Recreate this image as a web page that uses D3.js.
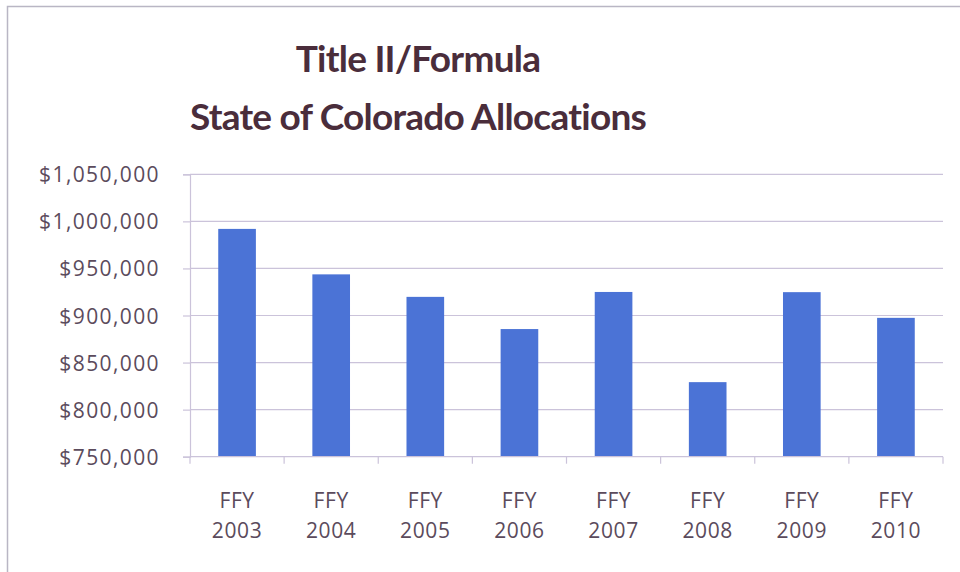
<!DOCTYPE html>
<html>
<head>
<meta charset="utf-8">
<script src="https://cdn.jsdelivr.net/npm/d3@7"></script>
<style>
  body { margin: 0; background: #fff; }
  svg { display: block; }
</style>
</head>
<body>
<svg id="chart" width="960" height="572"></svg>
<script>
// data
const years = ['2003', '2004', '2005', '2006', '2007', '2008', '2009', '2010'];
const allocations = [992000, 943700, 919800, 885600, 925000, 829200, 924800, 897500];
const yTicks = [750000, 800000, 850000, 900000, 950000, 1000000, 1050000];
const titleLines = ['Title II/Formula', 'State of Colorado Allocations'];

const svg = d3.select('#chart');
const margin = { top: 174.3, right: 17, bottom: 115.3, left: 190 };
const width = 960 - margin.left - margin.right;
const height = 572 - margin.top - margin.bottom;

// outer frame (partly cropped in the picture)
svg.append('path')
    .attr('d', 'M7.5,572 V6.5 H960')
    .attr('fill', 'none')
    .attr('stroke', '#b9b6c4')
    .attr('stroke-width', 1.5);

svg.selectAll('.title')
    .data(titleLines)
    .enter().append('text')
    .attr('class', 'title')
    .attr('x', 418)
    .attr('y', (d, i) => 72 + i * 58)
    .attr('text-anchor', 'middle')
    .attr('font-family', 'Lato, "Open Sans", sans-serif')
    .attr('font-weight', 'bold')
    .attr('font-size', 37)
    .attr('letter-spacing', -0.75)
    .attr('fill', '#4a2d3b')
    .text(d => d);

const chart = svg.append('g')
    .attr('transform', `translate(${margin.left},${margin.top})`);

const xScale = d3.scaleBand()
    .domain(years)
    .range([0, width])
    .paddingInner(0.6)
    .paddingOuter(0.3);

const yScale = d3.scaleLinear()
    .domain([750000, 1050000])
    .range([height, 0]);

const gridColour = '#cbc3da';
const labelColour = '#5b4b5c';

// gridlines
chart.selectAll('.grid')
    .data(yTicks.slice(1))
    .enter().append('line')
    .attr('class', 'grid')
    .attr('x1', 0)
    .attr('x2', width)
    .attr('y1', d => yScale(d))
    .attr('y2', d => yScale(d))
    .attr('stroke', gridColour)
    .attr('stroke-width', 1.2);

// bars
chart.selectAll('.bar')
    .data(allocations)
    .enter().append('rect')
    .attr('class', 'bar')
    .attr('x', (d, i) => xScale(years[i]))
    .attr('width', xScale.bandwidth())
    .attr('y', d => yScale(d))
    .attr('height', d => height - yScale(d))
    .attr('fill', '#4b73d6');

// y axis
const yAxis = chart.append('g')
    .call(d3.axisLeft(yScale)
        .tickValues(yTicks)
        .tickSize(7)
        .tickPadding(23)
        .tickFormat(d => '$' + d3.format(',')(d)));
yAxis.select('.domain').attr('stroke', gridColour).attr('stroke-width', 1.2);
yAxis.selectAll('.tick line').attr('stroke', gridColour).attr('stroke-width', 1.2);
yAxis.selectAll('.tick text')
    .attr('fill', labelColour)
    .attr('font-family', '"Open Sans", sans-serif')
    .attr('font-size', 21)
    .attr('letter-spacing', 1.4)
    .attr('dy', '0.36em');

// x axis: ticks sit between categories
const step = xScale.step();
const xAxis = chart.append('g')
    .attr('transform', `translate(0,${height})`);
xAxis.append('line')
    .attr('x1', 0).attr('x2', width)
    .attr('stroke', gridColour).attr('stroke-width', 1.2);
xAxis.selectAll('.xtick')
    .data(d3.range(years.length + 1))
    .enter().append('line')
    .attr('class', 'xtick')
    .attr('x1', i => i * step).attr('x2', i => i * step)
    .attr('y1', 0).attr('y2', 7)
    .attr('stroke', gridColour).attr('stroke-width', 1.2);

const xLabels = xAxis.selectAll('.xlabel')
    .data(years)
    .enter().append('text')
    .attr('class', 'xlabel')
    .attr('text-anchor', 'middle')
    .attr('fill', labelColour)
    .attr('font-family', '"Open Sans", sans-serif')
    .attr('font-size', 21)
    .attr('letter-spacing', 0.6)
    .attr('transform', d => `translate(${xScale(d) + xScale.bandwidth() / 2},0)`);
xLabels.append('tspan').attr('x', 0).attr('y', 51).text('FFY');
xLabels.append('tspan').attr('x', 0).attr('y', 81).text(d => d);
</script>
</body>
</html>
